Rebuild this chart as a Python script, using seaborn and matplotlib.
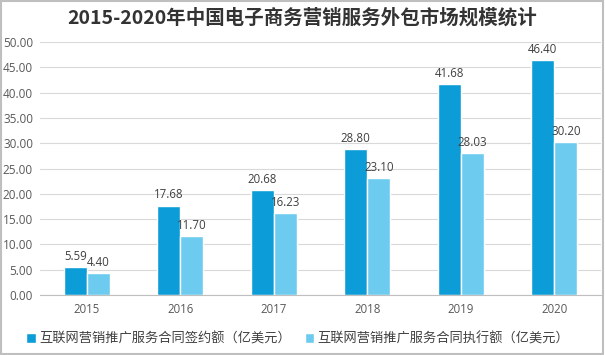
import numpy as np
import pandas as pd
import matplotlib
matplotlib.use("Agg")
import matplotlib.pyplot as plt
import seaborn as sns

# ─────────────────────────────────────────────
# Data
# ─────────────────────────────────────────────
years = ["2015", "2016", "2017", "2018", "2019", "2020"]
signed = [5.59, 17.68, 20.68, 28.80, 41.68, 46.40]
executed = [4.40, 11.70, 16.23, 23.10, 28.03, 30.20]
series_names = ["互联网营销推广服务合同签约额（亿美元）", "互联网营销推广服务合同执行额（亿美元）"]
y_ticks = [0, 5, 10, 15, 20, 25, 30, 35, 40, 45, 50]
title = "2015-2020年中国电子商务营销服务外包市场规模统计"

colors = ["#0C9DD8", "#6DCBF0"]

df = pd.DataFrame({
    "year": years * 2,
    "value": signed + executed,
    "series": [series_names[0]] * len(years) + [series_names[1]] * len(years),
})

sns.set_theme(style="white")
plt.rcParams["font.family"] = ["Open Sans", "Noto Sans CJK SC", "DejaVu Sans"]

fig = plt.figure(figsize=(6.05, 3.55), dpi=100)
ax = fig.add_axes([40 / 605, 1 - 295 / 355, 561 / 605, 253 / 355])

sns.barplot(data=df, x="year", y="value", hue="series", palette=colors,
            width=0.49, gap=0, saturation=1, ax=ax, legend=True)

# value labels
for container in ax.containers:
    ax.bar_label(container, fmt="%.2f", padding=3, fontsize=8.3, color="#404040")

ax.set_ylim(0, 50)
ax.set_yticks(y_ticks)
ax.set_yticklabels([f"{t:.2f}" for t in y_ticks], fontsize=8.5, color="#595959")
ax.tick_params(axis="x", labelsize=8.3, labelcolor="#595959", length=0, pad=6)
ax.tick_params(axis="y", length=0, pad=5)
ax.set_xlabel("")
ax.set_ylabel("")
ax.set_xlim(-0.5, len(years) - 0.5)

ax.yaxis.grid(True, color="#D9D9D9", linewidth=0.8)
ax.set_axisbelow(True)
for side in ["left", "right", "top"]:
    ax.spines[side].set_visible(False)
ax.spines["bottom"].set_color("#BFBFBF")
ax.spines["bottom"].set_linewidth(0.8)

handles, labels = ax.get_legend_handles_labels()
ax.legend_.remove()
fig.legend(handles, labels, loc="center", bbox_to_anchor=(298 / 605, 1 - 339 / 355),
           ncol=2, frameon=False, handlelength=0.7, handleheight=0.7,
           handletextpad=0.3, columnspacing=1.0,
           prop={"family": ["Noto Sans CJK SC"], "size": 9.5})
for t in fig.legends[0].get_texts():
    t.set_color("#404040")

fig.text(302 / 605, 1 - 18 / 355, title, ha="center", va="center",
         fontsize=14, fontweight="bold", color="#333333",
         family=["Noto Sans CJK SC", "DejaVu Sans"])

# light frame around the picture
fig.patches.append(plt.Rectangle((0.002, 0.003), 0.995, 0.994, transform=fig.transFigure,
                                 fill=False, edgecolor="#BFBFBF", linewidth=1.5))

fig.savefig("out.png", dpi=100)
